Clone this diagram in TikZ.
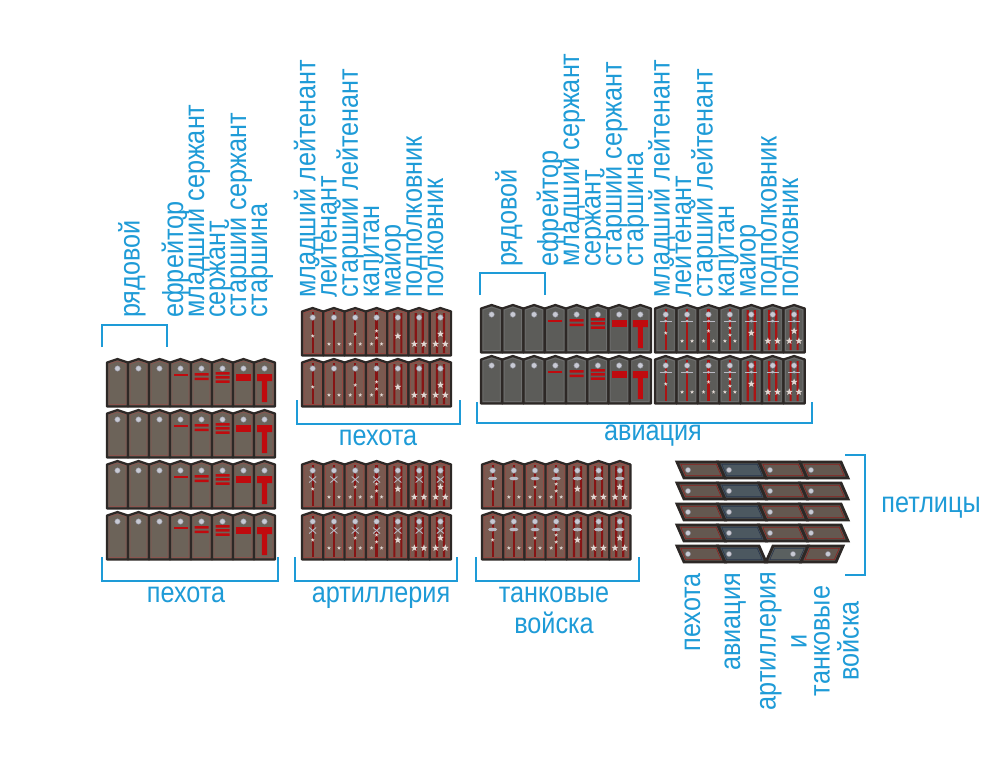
\documentclass[tikz,border=0pt]{standalone}
\usepackage{fontspec}
\setmainfont[FakeStretch=0.87]{Liberation Sans}
\usepackage{xcolor}
\usepackage{tikz}

\definecolor{lblue}{RGB}{30,155,215}
\definecolor{pogdark}{RGB}{45,40,38}
\definecolor{khaki}{RGB}{108,99,89}
\definecolor{khakipipe}{RGB}{138,84,78}
\definecolor{ofbrown}{RGB}{122,90,80}
\definecolor{ofpipe}{RGB}{150,72,66}
\definecolor{prosvet}{RGB}{135,20,20}
\definecolor{avgray}{RGB}{92,92,89}
\definecolor{avpipe}{RGB}{110,110,110}
\definecolor{avred}{RGB}{170,20,20}
\definecolor{lychka}{RGB}{192,10,14}
\definecolor{btn}{RGB}{200,202,212}
\definecolor{btnring}{RGB}{130,130,140}
\definecolor{zvcol}{RGB}{225,215,210}
\definecolor{embcol}{RGB}{185,185,195}
\definecolor{pbrown}{RGB}{100,88,80}
\definecolor{pred}{RGB}{140,32,30}
\definecolor{pblue}{RGB}{76,88,96}
\definecolor{pbluepipe}{RGB}{40,52,75}
\definecolor{pgray}{RGB}{90,96,96}

\tikzset{
  lbl/.style={text=lblue, font=\fontsize{29}{31}\selectfont, inner sep=0pt},
  vlbl/.style={lbl, rotate=90, anchor=mid west},
  brk/.style={draw=lblue, line width=2.8pt, line join=miter},
}

\def\pogh{47.5}
% one shoulder board, width \pogw, peak at the origin
\newcommand\pogon[2]{%
  \draw[fill=#1, draw=pogdark, line width=2.2pt, line join=round]
    (0,3.5) -- (\pogw/2,0) -- (\pogw,3.5) -- (\pogw,\pogh) -- (0,\pogh) -- cycle;
  \draw[draw=#2, line width=0.7pt, line join=round]
    (2.1,4.9) -- (\pogw/2,2.1) -- (\pogw-2.1,4.9) -- (\pogw-2.1,\pogh-2.1) -- (2.1,\pogh-2.1) -- cycle;}
\newcommand\knopka{\filldraw[fill=btn, draw=btnring, line width=0.4pt] (\pogw/2,9.5) circle (2.8);}
\newcommand\zv[3]{\fill[zvcol] (#1,#2) +(-90:#3) -- +(-54:0.42*#3) -- +(-18:#3) -- +(18:0.42*#3)
  -- +(54:#3) -- +(90:0.42*#3) -- +(126:#3) -- +(162:0.42*#3) -- +(198:#3) -- +(234:0.42*#3) -- cycle;}
\newcommand\emnone{}
\newcommand\emart{\draw[embcol, line width=0.9pt] (\pogw/2-3.5,15.5) -- (\pogw/2+3.5,21.5) (\pogw/2+3.5,15.5) -- (\pogw/2-3.5,21.5);}
\newcommand\emtank{\fill[embcol] (\pogw/2,17.5) ellipse (4.5 and 1.8);}
\newcommand\emavia{\draw[embcol, line width=0.9pt] (\pogw/2-6,16) -- (\pogw/2+6,16); \fill[embcol] (\pogw/2,16) circle (1.5);}

% eight boards: ryadovoi ... starshina
\newcommand\soldatrow[2]{%
  \foreach \k in {0,...,7}{%
    \begin{scope}[shift={(\k*\pogw,0)}]
      \pogon{#1}{#2}\knopka
      \ifcase\k\or\or\or
        \fill[lychka] (\pogw/2-7,14.5) rectangle (\pogw/2+7,17);
      \or
        \fill[lychka] (\pogw/2-7,14) rectangle (\pogw/2+7,16.5) (\pogw/2-7,18.5) rectangle (\pogw/2+7,21);
      \or
        \fill[lychka] (\pogw/2-7,13) rectangle (\pogw/2+7,15.5) (\pogw/2-7,17.2) rectangle (\pogw/2+7,19.7)
          (\pogw/2-7,21.4) rectangle (\pogw/2+7,23.9);
      \or
        \fill[lychka] (\pogw/2-7.5,15) rectangle (\pogw/2+7.5,22);
      \or
        \fill[lychka] (\pogw/2-7.5,15) rectangle (\pogw/2+7.5,22) (\pogw/2-2.6,22) rectangle (\pogw/2+2.6,43);
      \fi
    \end{scope}}}

% seven boards: ml. leitenant ... polkovnik
\newcommand\oficerrow[4]{%
  \foreach \k in {0,...,6}{%
    \begin{scope}[shift={(\k*\pogw,0)}]
      \pogon{#1}{#2}
      \ifnum\k<4
        \fill[#3] (\pogw/2-1.1,4) rectangle (\pogw/2+1.1,\pogh-2.5);
      \else
        \fill[#3] (\pogw/2-4.6,5) rectangle (\pogw/2-2.4,\pogh-2.5) (\pogw/2+2.4,5) rectangle (\pogw/2+4.6,\pogh-2.5);
      \fi
      \knopka #4
      \ifcase\k
        \zv{\pogw/2}{28}{2}
      \or
        \zv{\pogw/2-5}{36}{2}\zv{\pogw/2+5}{36}{2}
      \or
        \zv{\pogw/2}{26}{2}\zv{\pogw/2-5}{36}{2}\zv{\pogw/2+5}{36}{2}
      \or
        \zv{\pogw/2}{23}{2}\zv{\pogw/2}{30}{2}\zv{\pogw/2-5}{36}{2}\zv{\pogw/2+5}{36}{2}
      \or
        \zv{\pogw/2}{28}{3.6}
      \or
        \zv{\pogw/2-4.8}{36}{3.6}\zv{\pogw/2+4.8}{36}{3.6}
      \or
        \zv{\pogw/2}{26}{3.6}\zv{\pogw/2-4.8}{36}{3.6}\zv{\pogw/2+4.8}{36}{3.6}
      \fi
    \end{scope}}}

% collar tabs
\newcommand\petlica[2]{%
  \draw[fill=#1, draw=pogdark, line width=2.8pt] (0,0) -- (41,0) -- (48,16) -- (7,16) -- cycle;
  \draw[#2, line width=0.6pt] (3.8,2.4) -- (39.3,2.4) -- (44.2,13.6) -- (8.7,13.6) -- cycle;
  \filldraw[fill=btn, draw=btnring, line width=0.4pt] (11,8) circle (2.6);}
\newcommand\petlicam[2]{%
  \draw[fill=#1, draw=pogdark, line width=2.8pt] (7,0) -- (42,0) -- (35,16) -- (0,16) -- cycle;
  \draw[#2, line width=0.6pt] (8.7,2.4) -- (38.3,2.4) -- (33.3,13.6) -- (3.8,13.6) -- cycle;
  \filldraw[fill=btn, draw=btnring, line width=0.4pt] (27,8) circle (2.6);}

\begin{document}
\begin{tikzpicture}[x=1pt, y=-1pt]
    \useasboundingbox (0,0) rectangle (988,756);
    \fill[white] (0,0) rectangle (988,756);

    % Pehota, soldiers
    \def\pogw{21}
    \foreach \y in {359,410,461,512}{
        \begin{scope}[shift={(107,\y)}] \soldatrow{khaki}{khakipipe} \end{scope}}

    % Pehota and artillery, officers
    \def\pogw{21.3}
    \foreach \y in {308,359}{
        \begin{scope}[shift={(302,\y)}] \oficerrow{ofbrown}{ofpipe}{prosvet}{\emnone} \end{scope}}
    \foreach \y in {461,512}{
        \begin{scope}[shift={(302,\y)}] \oficerrow{ofbrown}{ofpipe}{prosvet}{\emart} \end{scope}}

    % Tanks
    \def\pogw{21.2}
    \foreach \y in {461,512}{
        \begin{scope}[shift={(482,\y)}] \oficerrow{ofbrown}{ofpipe}{prosvet}{\emtank} \end{scope}}

    % Aviation
    \def\pogw{21.25}
    \foreach \y in {305,356}{
        \begin{scope}[shift={(481,\y)}] \soldatrow{avgray}{avpipe} \end{scope}}
    \def\pogw{21.4}
    \foreach \y in {305,356}{
        \begin{scope}[shift={(655,\y)}] \oficerrow{avgray}{avpipe}{avred}{\emavia} \end{scope}}

    % Petlitsy
    \foreach \y in {462,483,504,525}{
        \begin{scope}[shift={(677,\y)}]
            \petlica{pbrown}{pred}
            \begin{scope}[shift={(41,0)}] \petlica{pblue}{pbluepipe} \end{scope}
            \begin{scope}[shift={(82,0)}] \petlica{pbrown}{pred} \end{scope}
            \begin{scope}[shift={(123,0)}] \petlica{pbrown}{pred} \end{scope}
        \end{scope}}
    \begin{scope}[shift={(677,546)}]
        \petlica{pbrown}{pred}
        \begin{scope}[shift={(41,0)}] \petlica{pblue}{pbluepipe} \end{scope}
        \begin{scope}[shift={(89,0)}] \petlicam{pgray}{pbluepipe} \end{scope}
        \begin{scope}[shift={(124,0)}] \petlicam{pbrown}{pred} \end{scope}
    \end{scope}

    % Brackets
    \draw[brk] (102,347) -- (102,325) -- (167,325) -- (167,347);
    \draw[brk] (480,295) -- (480,273) -- (545,273) -- (545,295);
    \draw[brk] (102,557) -- (102,581) -- (278,581) -- (278,557);
    \draw[brk] (295,557) -- (295,581) -- (457,581) -- (457,557);
    \draw[brk] (476,557) -- (476,581) -- (639,581) -- (639,557);
    \draw[brk] (297,400) -- (297,424) -- (460,424) -- (460,400);
    \draw[brk] (477,402) -- (477,423) -- (812,423) -- (812,402);
    \draw[brk] (845,455) -- (865,455) -- (865,575) -- (845,575);

    % Ranks, pehota soldiers
    \node[vlbl] (ryadA) at (137,318) {рядовой};
    \node[vlbl] (efrA) at (180.5,318) {ефрейтор};
    \node[vlbl] (mlserA) at (201.5,318) {младший сержант};
    \node[vlbl] (serA) at (222.5,318) {сержант};
    \node[vlbl] (stserA) at (243.5,318) {старший сержант};
    \node[vlbl] (starA) at (264.5,318) {старшина};

    % Ranks, pehota officers
    \node[vlbl] (mlleiB) at (312.7,298) {младший лейтенант};
    \node[vlbl] (leiB) at (334,298) {лейтенант};
    \node[vlbl] (stleiB) at (355.3,298) {старший лейтенант};
    \node[vlbl] (kapB) at (376.6,298) {капитан};
    \node[vlbl] (maiB) at (397.9,298) {майор};
    \node[vlbl] (ppolkB) at (419.2,298) {подполковник};
    \node[vlbl] (polkB) at (440.5,298) {полковник};

    % Ranks, aviation
    \node[vlbl] (ryadE) at (514,267) {рядовой};
    \node[vlbl] (efrE) at (555.4,267) {ефрейтор};
    \node[vlbl] (mlserE) at (576.6,267) {младший сержант};
    \node[vlbl] (serE) at (597.9,267) {сержант};
    \node[vlbl] (stserE) at (619.1,267) {старший сержант};
    \node[vlbl] (starE) at (640.4,267) {старшина};
    \node[vlbl] (mlleiE) at (667,298) {младший лейтенант};
    \node[vlbl] (leiE) at (688.5,298) {лейтенант};
    \node[vlbl] (stleiE) at (710,298) {старший лейтенант};
    \node[vlbl] (kapE) at (731.5,298) {капитан};
    \node[vlbl] (maiE) at (753,298) {майор};
    \node[vlbl] (ppolkE) at (774,298) {подполковник};
    \node[vlbl] (polkE) at (795.5,298) {полковник};

    % Branches
    \node[lbl, anchor=mid] (pehA) at (186,600) {пехота};
    \node[lbl, anchor=mid] (artC) at (381,600) {артиллерия};
    \node[lbl, anchor=mid] (tankD) at (554,600) {танковые};
    \node[lbl, anchor=mid] (voiskD) at (554,631) {войска};
    \node[lbl, anchor=mid] (pehB) at (378,443) {пехота};
    \node[lbl, anchor=mid] (aviaE) at (653,437.5) {авиация};
    \node[lbl, anchor=mid] (petl) at (931,510) {петлицы};

    % Petlitsy branches
    \node[lbl, rotate=90, anchor=mid east] (petlPeh) at (697.5,573) {пехота};
    \node[lbl, rotate=90, anchor=mid east] (petlAvia) at (737.5,573) {авиация};
    \node[lbl, rotate=90, anchor=mid] (petlArt) at (773,641) {артиллерия};
    \node[lbl, rotate=90, anchor=mid] (petlI) at (804,641) {и};
    \node[lbl, rotate=90, anchor=mid] (petlTank) at (827,641) {танковые};
    \node[lbl, rotate=90, anchor=mid] (petlVoisk) at (856,641) {войска};
\end{tikzpicture}
\end{document}
